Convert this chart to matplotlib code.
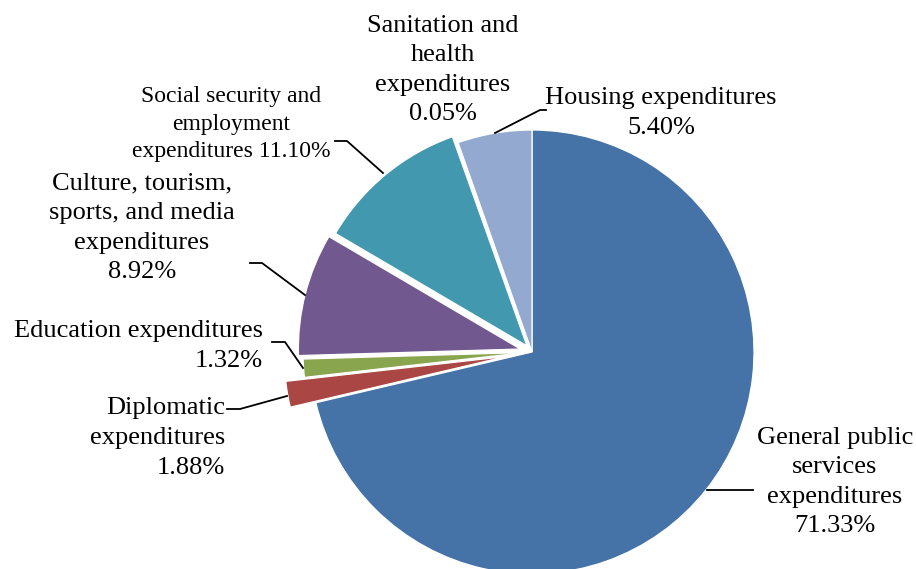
import matplotlib.pyplot as plt

# expenditure shares (%), clockwise from 12 o'clock
categories = [
    "General public services expenditures",
    "Diplomatic expenditures",
    "Education expenditures",
    "Culture, tourism, sports, and media expenditures",
    "Social security and employment expenditures",
    "Sanitation and health expenditures",
    "Housing expenditures",
]
shares = [71.33, 1.88, 1.32, 8.92, 11.10, 0.05, 5.40]
label_texts = [
    "General public\nservices\nexpenditures\n71.33%",
    "Diplomatic\nexpenditures\n1.88%",
    "Education expenditures\n1.32%",
    "Culture, tourism,\nsports, and media\nexpenditures\n8.92%",
    "Social security and\nemployment\nexpenditures 11.10%",
    "Sanitation and\nhealth\nexpenditures\n0.05%",
    "Housing expenditures\n5.40%",
]
colors = ["#4572A7", "#AA4643", "#89A54E", "#71588F", "#4198AF", "#DB843D", "#93A9CF"]

W, H = 916, 569
explode = [0, 26, 7, 12, 8, 0, 0]

fig = plt.figure(figsize=(W / 100, H / 100), dpi=100)
ax = fig.add_axes([0, 0, 1, 1])
ax.pie(
    shares,
    colors=colors,
    explode=explode,
    startangle=90,
    counterclock=False,
    radius=222,
    center=(532, H - 352),
    wedgeprops=dict(edgecolor="white", linewidth=0.9),
)
ax.set_xlim(0, W)
ax.set_ylim(0, H)
ax.set_aspect("equal")
ax.axis("off")

# label placement (pixel coords from top-left): x, y, alignment, size, line spacing
placements = [
    (835, 482, "center", 19, 1.45),
    (225, 438, "right", 19, 1.45),
    (263, 346, "right", 19, 1.45),
    (142, 228, "center", 19, 1.45),
    (231, 124, "center", 17, 1.4),
    (443, 70, "center", 19, 1.45),
    (661, 113, "center", 19, 1.45),
]
for text, (x, y, ha, size, ls) in zip(label_texts, placements):
    ax.text(x, H - y, text, ha=ha, va="center", multialignment=ha, fontsize=size,
            family="Liberation Serif", color="black", linespacing=ls)

# leader lines
leaders = [
    [(707, 490), (753, 490)],
    [(227, 409), (240, 409), (287, 396)],
    [(272, 342), (285, 342), (303, 368)],
    [(250, 263), (262, 263), (305, 295)],
    [(335, 141), (347, 141), (383, 173)],
    [(495, 133), (540, 110), (546, 110)],
]
for pts in leaders:
    xs = [p[0] for p in pts]
    ys = [H - p[1] for p in pts]
    ax.plot(xs, ys, color="black", linewidth=1.3)

fig.savefig("out.png", dpi=100, facecolor="white")
plt.close(fig)
